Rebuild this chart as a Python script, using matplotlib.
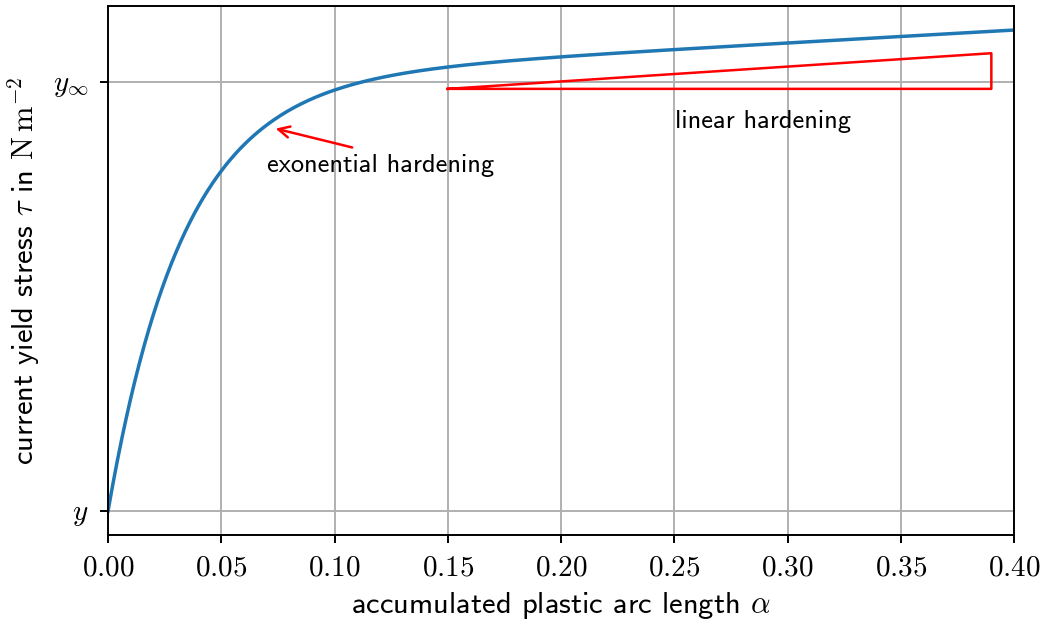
import numpy as np
import matplotlib
matplotlib.use("Agg")
import matplotlib.pyplot as plt
from matplotlib.ticker import FuncFormatter

plt.rcParams['font.family'] = ['cmss10', 'DejaVu Sans']
plt.rcParams['mathtext.fontset'] = 'cm'
plt.rcParams['axes.unicode_minus'] = False
plt.rcParams['axes.formatter.use_mathtext'] = True

# Hardening law parameters (normalised stresses)
y0 = 1.0        # initial yield stress y
y_inf = 2.0     # saturation stress y_inf
delta = 30.0    # exponential hardening rate
h = 0.30        # linear hardening modulus
alpha_max = 0.4

# Slope triangle marking the linear part
tri_alpha = [0.15, 0.39, 0.39, 0.15]
tri_tau = [1.983, 1.983, 2.066, 1.983]

alpha = np.linspace(0, alpha_max, 400)
tau = y0 + (y_inf - y0) * (1 - np.exp(-delta * alpha)) + h * alpha

fig = plt.figure(figsize=(10.5, 6.25), dpi=100)
ax = fig.add_axes([0.1029, 0.144, 0.8628, 0.8464])

ax.plot(alpha, tau, color='#1f77b4', lw=2.5)
ax.plot(tri_alpha, tri_tau, color='red', lw=1.8)

ax.annotate('', xy=(0.0728, 1.892), xytext=(0.109, 1.845),
            arrowprops=dict(arrowstyle='->', color='red', lw=1.8, mutation_scale=20))
ax.text(0.0702, 1.804, 'exonential hardening', fontsize=19, va='center', ha='left')
ax.text(0.2503, 1.906, 'linear hardening', fontsize=19, va='center', ha='left')

ax.set_xlim(0, alpha_max)
ax.set_xticks(np.arange(0, 0.401, 0.05))
ax.xaxis.set_major_formatter(FuncFormatter(lambda v, p: f'${v:.2f}$'))
ax.set_yticks([y0, y_inf])
ax.set_yticklabels([r'$y$', r'$y_\infty$'])

ax.grid(True, color='#b0b0b0', lw=1.4)
ax.tick_params(labelsize=21, width=1.4, length=6, pad=8)
for s in ax.spines.values():
    s.set_linewidth(1.4)

ax.set_xlabel(r'accumulated plastic arc length $\alpha$', fontsize=22, labelpad=6)
ax.set_ylabel(r'current yield stress $\tau$ in $\mathrm{N}\,\mathrm{m}^{-2}$', fontsize=22, labelpad=8)

fig.savefig('out.png', dpi=100)
